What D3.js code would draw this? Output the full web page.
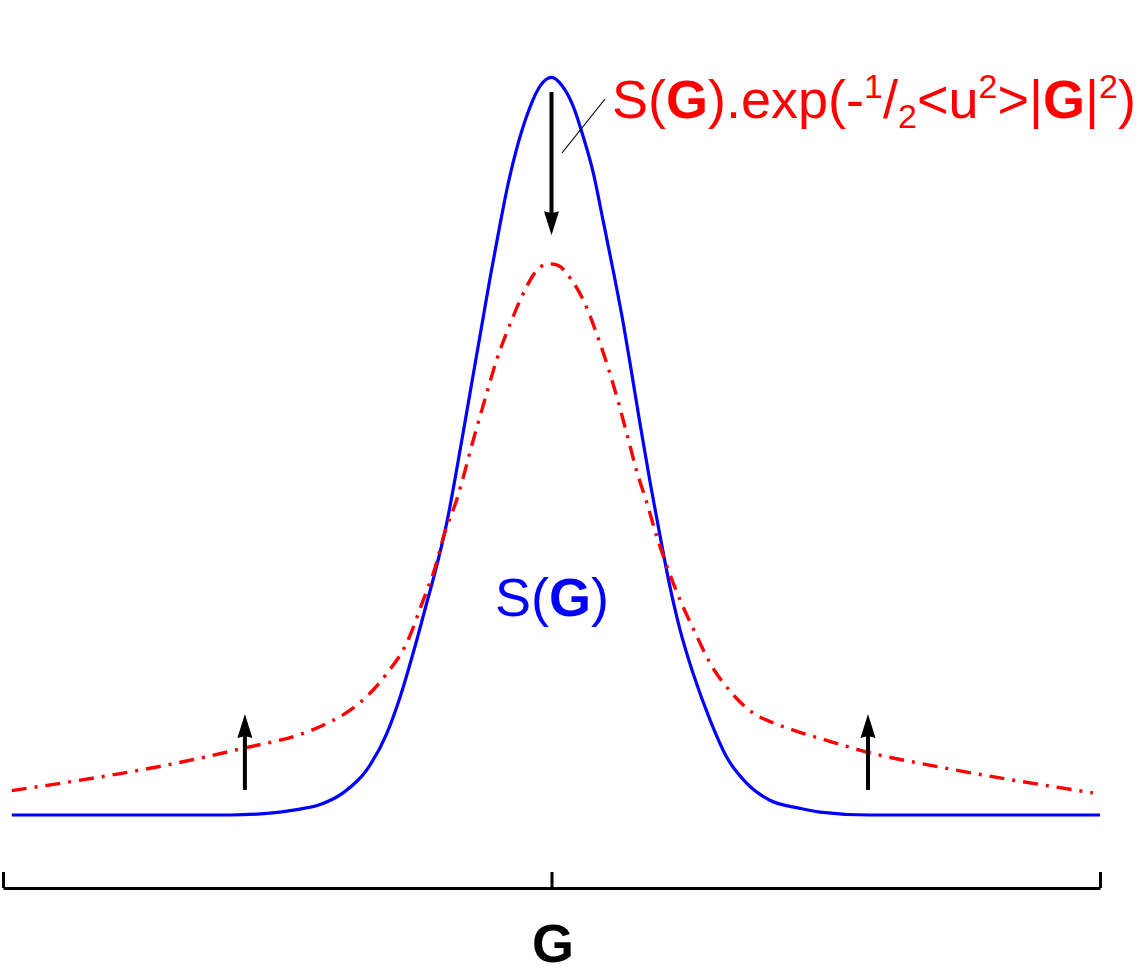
<!DOCTYPE html>
<html>
<head>
<meta charset="utf-8">
<script src="https://cdn.jsdelivr.net/npm/d3@7"></script>
<style>
body{margin:0;background:#fff;}
svg{display:block;font-family:"Liberation Sans",Arial,Helvetica,sans-serif;}
</style>
</head>
<body>
<div id="chart"></div>
<script>
// G axis runs -100..100, intensity 0..100 (peak of S(G))
var sgX=[-98.4,-58.6,-49.5,-45.9,-42.3,-38.0,-33.7,-30.0,-27.6,-24.9,-22.8,-21.2,-19.1,-16.4,-14.9,-12.7,-11.2,-9.4,-7.9,-6.1,-3.9,-2.0,0,
         1.9,4.0,5.8,7.6,9.4,11.3,13.1,14.6,16.1,18.0,19.8,21.3,23.4,25.9,28.9,31.9,35.6,39.8,45.3,48.9,58.0,100];
var sgY=[0,0,0.4,0.8,1.4,3.0,6.1,11.1,16.0,22.8,28.6,33.0,39.6,50.6,57.0,66.4,72.8,80.0,85.6,91.0,96.0,98.9,100,
         98.9,96.0,91.9,87.1,80.6,73.6,66.6,60.0,53.2,45.0,37.8,32.0,25.2,19.0,12.9,7.9,4.3,2.0,0.9,0.4,0,0];

var dwX=[-98.4,-64.1,-55.9,-45.9,-43.7,-41.0,-36.7,-33.1,-30.0,-26.4,-23.4,-21.2,-19.7,-17.3,-13.9,-11.8,-10.0,-8.2,-5.7,-2.7,-1.2,0,1.2,
         3.7,5.8,8.2,10.3,12.1,13.9,15.5,17.4,19.2,21.3,23.7,26.2,28.9,32.9,36.8,40.4,44.1,50.2,57.7,70.8,98.7];
var dwY=[3.3,7.7,9.1,10.9,11.5,12.4,14.2,16.5,19.2,23.3,29.1,33.6,37.7,42.7,51.8,57.2,61.7,65.3,69.8,73.8,74.6,74.7,74.5,
         72.5,69.8,65.3,60.7,56.2,51.2,46.7,42.3,37.7,33.2,28.7,24.7,20.6,16.5,13.8,12.5,11.5,10.1,8.5,6.5,3.0];

var axisTicks=[-100,0,100];
// arrows: x, from, to
var arrowX=[0,-55.9,57.7];
var arrowFrom=[98.0,3.4,3.4];
var arrowTo=[78.6,13.7,13.7];

var width=1144,height=978;
var x=d3.scaleLinear().domain([-100,100]).range([3,1100]);
var y=d3.scaleLinear().domain([0,100]).range([815,77.3]);

var svg=d3.select("#chart")
	.append("svg")
	.attr("width",width)
	.attr("height",height);

var line=d3.line()
	.x(function(d){return x(d[0]);})
	.y(function(d){return y(d[1]);})
	.curve(d3.curveMonotoneX);

svg.append("path")
	.datum(sgX.map(function(v,i){return [v,sgY[i]];}))
	.attr("d",line)
	.style("fill","none")
	.style("stroke","#0000ff")
	.style("stroke-width","3.2px");

svg.append("path")
	.datum(dwX.map(function(v,i){return [v,dwY[i]];}))
	.attr("d",line)
	.style("fill","none")
	.style("stroke","#ff0000")
	.style("stroke-width","3.4px")
	.style("stroke-dasharray","15,8,3,8");

// arrows
arrowX.forEach(function(ax,i){
	var px=x(ax),y0=y(arrowFrom[i]),y1=y(arrowTo[i]);
	var dir=y1>y0?1:-1;
	var headLen=24,headW=7.5;
	svg.append("line")
		.attr("x1",px).attr("y1",y0)
		.attr("x2",px).attr("y2",y1-dir*headLen+dir*3)
		.style("stroke","#000")
		.style("stroke-width","4px");
	svg.append("path")
		.attr("d","M"+px+","+y1+"L"+(px-headW)+","+(y1-dir*headLen)+"L"+px+","+(y1-dir*(headLen-2))+"L"+(px+headW)+","+(y1-dir*headLen)+"Z")
		.style("fill","#000");
});

// leader line for the Debye-Waller label
svg.append("line")
	.attr("x1",605).attr("y1",99)
	.attr("x2",562).attr("y2",153)
	.style("stroke","#000")
	.style("stroke-width","1.2px");

// axis with upward ticks
var axis=d3.axisTop(x)
	.tickValues(axisTicks)
	.tickSize(16)
	.tickSizeOuter(0)
	.tickFormat("");

var gAx=svg.append("g")
	.attr("transform","translate(0,888)")
	.call(axis);
gAx.selectAll("path,line")
	.style("stroke","#000")
	.style("stroke-width","3px");

svg.append("text")
	.attr("x",553)
	.attr("y",962)
	.style("text-anchor","middle")
	.style("font-size","54px")
	.style("font-weight","bold")
	.text("G");

// blue label
var sLab=svg.append("text")
	.attr("x",495)
	.attr("y",616)
	.style("font-size","54px")
	.style("fill","#0000ff");
sLab.append("tspan").text("S(");
sLab.append("tspan").style("font-weight","bold").text("G");
sLab.append("tspan").text(")");

// red label
var rLab=svg.append("text")
	.attr("x",612)
	.attr("y",118)
	.style("font-size","54px")
	.style("fill","#ff0000");
rLab.append("tspan").text("S(");
rLab.append("tspan").style("font-weight","bold").text("G");
rLab.append("tspan").text(").exp(-");
rLab.append("tspan").attr("dy",-20).style("font-size","34px").text("1");
rLab.append("tspan").attr("dy",20).text("/");
rLab.append("tspan").attr("dy",10).style("font-size","34px").text("2");
rLab.append("tspan").attr("dy",-10).text("<u");
rLab.append("tspan").attr("dy",-20).style("font-size","34px").text("2");
rLab.append("tspan").attr("dy",20).text(">|");
rLab.append("tspan").style("font-weight","bold").text("G");
rLab.append("tspan").text("|");
rLab.append("tspan").attr("dy",-20).style("font-size","34px").text("2");
rLab.append("tspan").attr("dy",20).text(")");
</script>
</body>
</html>
